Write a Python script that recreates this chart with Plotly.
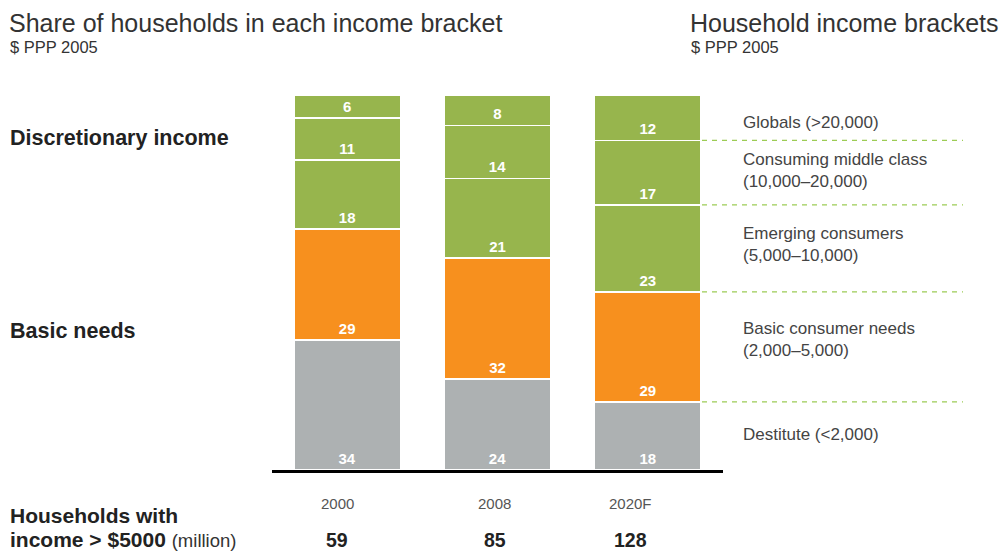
import plotly.graph_objects as go

years = ["2000", "2008", "2020F"]
brackets = ["Destitute (<2,000)", "Basic consumer needs<br>(2,000–5,000)",
            "Emerging consumers<br>(5,000–10,000)", "Consuming middle class<br>(10,000–20,000)",
            "Globals (>20,000)"]
destitute = [34, 24, 18]
basic = [29, 32, 29]
emerging = [18, 21, 23]
middle = [11, 14, 17]
globals_ = [6, 8, 12]
households_m = [59, 85, 128]

series = [destitute, basic, emerging, middle, globals_]
colors = ["#adb1b2", "#f7901e", "#97b54d", "#97b54d", "#97b54d"]

# style: pixel nudges for labels (visual layout only)
bracket_yshift = [1.5, 7.5, 4, 2.5, -4.5]
year_xshift = [-10, -3, -17]

FONT = "Liberation Sans, Arial, sans-serif"

# plot area in pixels (for placing paper-referenced texts)
L, R, T, B = 272, 723, 95, 470
W, H = R - L, B - T


def px(x):
    return (x - L) / W


def py(y):
    return (B - y) / H


xpos = list(range(len(years)))
totals = [sum(s[i] for s in series) for i in xpos]

fig = go.Figure()
for name, vals, col in zip(brackets, series, colors):
    fig.add_trace(go.Bar(
        x=xpos, y=vals, name=name, text=["<b>%d</b>" % v for v in vals],
        textposition="inside", insidetextanchor="start", textangle=0,
        constraintext="none",
        textfont=dict(family=FONT, size=15, color="white"),
        marker=dict(color=col, line=dict(color="white", width=1.5)),
        width=0.71, showlegend=False, hoverinfo="skip",
    ))

# normalized cumulative boundaries for the last bar (reference lines)
last_total = totals[-1]
cum = 0
bounds = []
mids = []
for s in series:
    lo = cum
    cum += s[-1]
    mids.append((lo + cum) / 2 / last_total * 100)
    bounds.append(cum / last_total * 100)

shapes = []
for b in bounds[:-1]:
    shapes.append(dict(type="line", xref="paper", yref="y", x0=px(702), x1=px(963),
                       y0=b, y1=b, line=dict(color="#9ccc55", width=1.2, dash="5px,5px"),
                       layer="below"))

annotations = []
for name, m, ys in zip(brackets, mids, bracket_yshift):
    annotations.append(dict(text=name, xref="paper", yref="y", x=px(741), y=m, yshift=ys,
                            xanchor="left", yanchor="middle", showarrow=False, align="left",
                            font=dict(family=FONT, size=17, color="#444")))

# titles
annotations += [
    dict(text="Share of households in each income bracket", xref="paper", yref="paper",
         x=px(7), y=py(23), xanchor="left", yanchor="middle", showarrow=False,
         font=dict(family=FONT, size=25, color="#333")),
    dict(text="$ PPP 2005", xref="paper", yref="paper", x=px(8), y=py(47), xanchor="left",
         yanchor="middle", showarrow=False, font=dict(family=FONT, size=16.5, color="#333")),
    dict(text="Household income brackets", xref="paper", yref="paper", x=px(688), y=py(23),
         xanchor="left", yanchor="middle", showarrow=False,
         font=dict(family=FONT, size=25, color="#333")),
    dict(text="$ PPP 2005", xref="paper", yref="paper", x=px(689), y=py(47), xanchor="left",
         yanchor="middle", showarrow=False, font=dict(family=FONT, size=16.5, color="#333")),
    dict(text="<b>Discretionary income</b>", xref="paper", yref="paper", x=px(8), y=py(138),
         xanchor="left", yanchor="middle", showarrow=False,
         font=dict(family=FONT, size=21.5, color="#222")),
    dict(text="<b>Basic needs</b>", xref="paper", yref="paper", x=px(8), y=py(331),
         xanchor="left", yanchor="middle", showarrow=False,
         font=dict(family=FONT, size=21.5, color="#222")),
    dict(text="<b>Households with</b>",
         xref="paper", yref="paper", x=px(8), y=py(515), xanchor="left", yanchor="middle",
         showarrow=False, align="left", font=dict(family=FONT, size=21, color="#222")),
    dict(text="<b>income > $5000</b> <span style='font-size:18.5px;color:#333'>(million)</span>",
         xref="paper", yref="paper", x=px(8), y=py(539), xanchor="left", yanchor="middle",
         showarrow=False, align="left", font=dict(family=FONT, size=21, color="#222")),
]
for i, yr, h, xs in zip(xpos, years, households_m, year_xshift):
    annotations.append(dict(text=yr, xref="x", yref="paper", x=i, y=py(503), xshift=xs,
                            xanchor="center", yanchor="middle", showarrow=False,
                            font=dict(family=FONT, size=15, color="#555")))
    annotations.append(dict(text="<b>%d</b>" % h, xref="x", yref="paper", x=i, y=py(540),
                            xshift=xs, xanchor="center", yanchor="middle", showarrow=False,
                            font=dict(family=FONT, size=19.5, color="#222")))

fig.update_layout(
    barmode="stack", barnorm="percent",
    width=1006, height=551,
    margin=dict(l=L, r=1006 - R, t=T, b=551 - B),
    plot_bgcolor="white", paper_bgcolor="white",
    shapes=shapes, annotations=annotations,
    xaxis=dict(range=[-0.5, 2.5], tickmode="array", tickvals=xpos, showticklabels=False,
               showgrid=False, zeroline=False, showline=True, linecolor="black",
               linewidth=3, ticks=""),
    yaxis=dict(range=[0, 100], visible=False, showgrid=False),
)

fig.write_html("out.html", config={"displayModeBar": False},
               post_script="document.body.style.margin='0';")
